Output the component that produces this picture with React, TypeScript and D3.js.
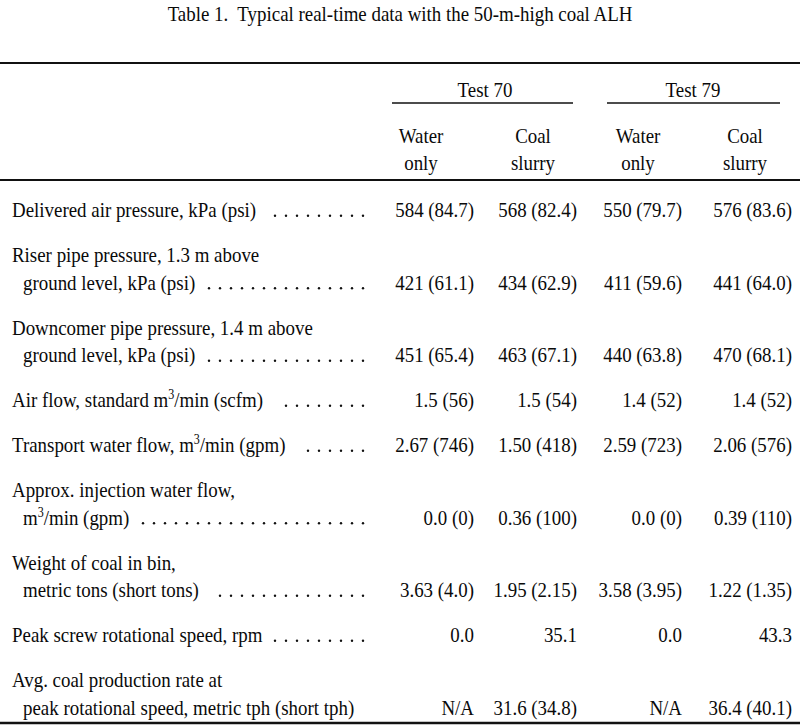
import {useEffect, useRef} from "react";
import * as d3 from "d3";

const WIDTH = 800;
const HEIGHT = 728;
const FONT = "'Liberation Serif', 'Times New Roman', serif";
const FONT_SIZE = 22;
const SQUEEZE = 0.86;

const title = "Table 1.\u00a0 Typical real-time data with the 50-m-high coal ALH";

const tests = ["Test 70", "Test 79"];
const subHeads = [["Water", "only"], ["Coal", "slurry"], ["Water", "only"], ["Coal", "slurry"]];

// "^3" marks a superscript
const rowLabels = [
    ["Delivered air pressure, kPa (psi)"],
    ["Riser pipe pressure, 1.3 m above", "ground level, kPa (psi)"],
    ["Downcomer pipe pressure, 1.4 m above", "ground level, kPa (psi)"],
    ["Air flow, standard m^3/min (scfm)"],
    ["Transport water flow, m^3/min (gpm)"],
    ["Approx. injection water flow,", "m^3/min (gpm)"],
    ["Weight of coal in bin,", "metric tons (short tons)"],
    ["Peak screw rotational speed, rpm"],
    ["Avg. coal production rate at", "peak rotational speed, metric tph (short tph)"],
];
const hasLeader = [true, true, true, true, true, true, true, true, false];

const test70Water = ["584 (84.7)", "421 (61.1)", "451 (65.4)", "1.5 (56)", "2.67 (746)", "0.0 (0)", "3.63 (4.0)", "0.0", "N/A"];
const test70Coal = ["568 (82.4)", "434 (62.9)", "463 (67.1)", "1.5 (54)", "1.50 (418)", "0.36 (100)", "1.95 (2.15)", "35.1", "31.6 (34.8)"];
const test79Water = ["550 (79.7)", "411 (59.6)", "440 (63.8)", "1.4 (52)", "2.59 (723)", "0.0 (0)", "3.58 (3.95)", "0.0", "N/A"];
const test79Coal = ["576 (83.6)", "441 (64.0)", "470 (68.1)", "1.4 (52)", "2.06 (576)", "0.39 (110)", "1.22 (1.35)", "43.3", "36.4 (40.1)"];

const columns = [test70Water, test70Coal, test79Water, test79Coal];

export default function App() {
    const svgRef = useRef<SVGSVGElement>(null);

    useEffect(() => {
        const svg = d3.select(svgRef.current);
        svg.selectAll("*").remove();

        // column right edges / header centres
        const colRight = d3.scaleOrdinal<number, number>().domain([0, 1, 2, 3]).range([474, 577, 682, 792]);
        const colCenter = d3.scaleOrdinal<number, number>().domain([0, 1, 2, 3]).range([421, 533, 638, 745]);
        const testCenter = d3.scaleOrdinal<number, number>().domain([0, 1]).range([485, 693]);
        const testLine = d3.scaleOrdinal<number, [number, number]>().domain([0, 1]).range([[392, 573], [607, 780]]);

        // row baselines: 45px between rows, 27.5px between wrapped lines
        const ROW_STEP = 45;
        const LINE_STEP = 27.5;
        const rowY: number[] = [];
        let extra = 0;
        rowLabels.forEach((lines, i) => {
            rowY.push(217 + i * ROW_STEP + extra * LINE_STEP);
            extra += lines.length - 1;
        });

        const addText = (g: d3.Selection<any, any, any, any>, str: string, x: number, y: number, anchor = "start") => {
            const t = g.append("text")
                .attr("transform", `translate(${x},${y}) scale(${SQUEEZE},1)`)
                .attr("text-anchor", anchor)
                .attr("font-family", FONT)
                .attr("font-size", FONT_SIZE)
                .attr("fill", "#0a0a0a");
            const parts = str.split("^3");
            parts.forEach((p, k) => {
                t.append("tspan").text(p).attr("dy", k > 0 ? 8 : null);
                if (k < parts.length - 1) {
                    t.append("tspan").text("3").attr("font-size", 14).attr("dy", -8);
                }
            });
            return t;
        };

        const g = svg.append("g");

        addText(g, title, WIDTH / 2, 21, "middle");

        // rules
        const rules = [{y: 63, w: 2.2}, {y: 180, w: 2}, {y: 723, w: 2.6}];
        g.selectAll("line.rule")
            .data(rules)
            .join("line")
            .attr("class", "rule")
            .attr("x1", 0).attr("x2", WIDTH)
            .attr("y1", (d) => d.y).attr("y2", (d) => d.y)
            .attr("stroke", "#111")
            .attr("stroke-width", (d) => d.w);

        tests.forEach((t, i) => {
            addText(g, t, testCenter(i), 97, "middle");
            const [a, b] = testLine(i);
            g.append("line")
                .attr("x1", a).attr("x2", b)
                .attr("y1", 103).attr("y2", 103)
                .attr("stroke", "#111").attr("stroke-width", 1.6);
        });

        subHeads.forEach((lines, i) => {
            lines.forEach((l, k) => addText(g, l, colCenter(i), 143 + k * 27, "middle"));
        });

        // row labels with dot leaders
        const LEADER_END = 363;
        const DOT_GAP = 11;
        rowLabels.forEach((lines, i) => {
            lines.forEach((l, k) => {
                const x = k === 0 ? 12 : 23;
                const y = rowY[i] + k * LINE_STEP;
                const t = addText(g, l, x, y);
                if (k === lines.length - 1 && hasLeader[i]) {
                    const node = t.node() as SVGTextElement;
                    const end = x + node.getComputedTextLength() * SQUEEZE;
                    const dots: number[] = [];
                    for (let dx = LEADER_END; dx > end + 12; dx -= DOT_GAP) dots.push(dx);
                    g.append("g")
                        .selectAll("circle")
                        .data(dots)
                        .join("circle")
                        .attr("cx", (d) => d)
                        .attr("cy", y - 1.3)
                        .attr("r", 1.2)
                        .attr("fill", "#111");
                }
            });
        });

        // values sit on the last line of each row
        columns.forEach((col, c) => {
            col.forEach((v, i) => {
                const y = rowY[i] + (rowLabels[i].length - 1) * LINE_STEP;
                addText(g, v, colRight(c), y, "end");
            });
        });
    }, []);

    return (
        <svg
            ref={svgRef}
            width={WIDTH}
            height={HEIGHT}
            style={{position: "absolute", left: 0, top: 0, background: "#fff"}}
        />
    );
}
